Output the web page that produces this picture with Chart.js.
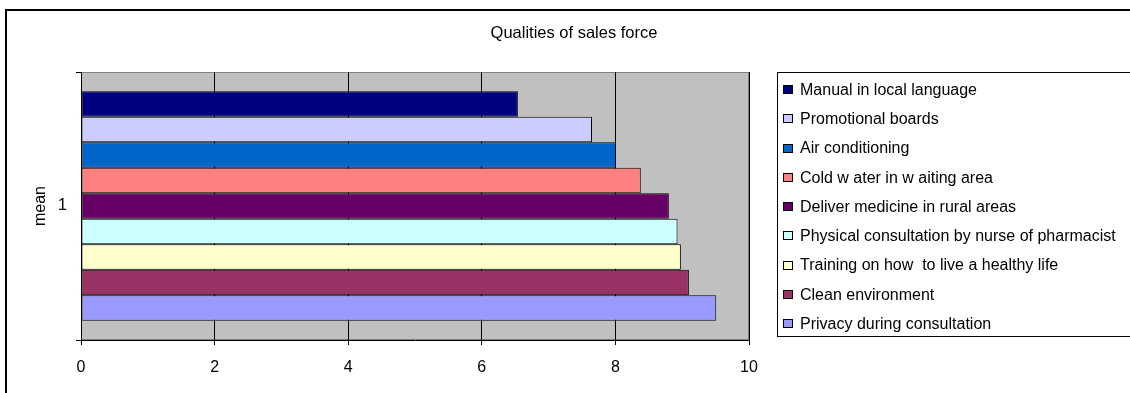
<!DOCTYPE html>
<html>
<head>
<meta charset="utf-8">
<script src="https://cdn.jsdelivr.net/npm/chart.js@4/dist/chart.umd.min.js"></script>
<style>
  html, body { margin: 0; padding: 0; background: #fff; overflow: hidden; }
  #wrap { width: 1130px; height: 393px; }
</style>
</head>
<body>
<div id="wrap"><canvas id="salesChart" width="1130" height="393"></canvas></div>
<script>
var categories = ['1'];
var qualities = [
    'Manual in local language',
    'Promotional boards',
    'Air conditioning',
    'Cold w ater in w aiting area',
    'Deliver medicine in rural areas',
    'Physical consultation by nurse of pharmacist',
    'Training on how  to live a healthy life',
    'Clean environment',
    'Privacy during consultation'
];
var meanScores = [6.54, 7.65, 8.01, 8.38, 8.80, 8.93, 8.98, 9.10, 9.51];
var barColors = ['#000080', '#CCCCFF', '#0066CC', '#FF8080', '#660066', '#CCFFFF', '#FFFFCC', '#993366', '#9999FF'];
var xTicks = [0, 2, 4, 6, 8, 10];

var FONT = '"Liberation Sans", Arial, sans-serif';

// frame, plot background, title and boxed legend
var excelLook = {
    id: 'excelLook',
    beforeDraw: function(chart) {
        var c = chart.ctx, a = chart.chartArea;
        c.save();
        c.fillStyle = '#C0C0C0';
        c.fillRect(a.left, a.top, a.right - a.left, a.bottom - a.top);
        c.strokeStyle = '#808080';
        c.lineWidth = 1;
        c.strokeRect(a.left + 0.5, a.top + 0.5, a.right - a.left - 1, a.bottom - a.top - 1);
        c.restore();
    },
    afterDraw: function(chart) {
        var c = chart.ctx;
        c.save();
        // outer chart border
        c.strokeStyle = '#000';
        c.lineWidth = 2;
        c.strokeRect(6, 10, 2000, 2000);

        // title
        c.fillStyle = '#000';
        c.font = '16.5px ' + FONT;
        c.textAlign = 'center';
        c.textBaseline = 'middle';
        c.fillText('Qualities of sales force', 574, 33);

        // legend box (runs off the right edge)
        c.font = '16px ' + FONT;
        c.lineWidth = 1;
        c.strokeRect(777.5, 72.5, 400, 264);
        c.textAlign = 'left';
        chart.data.datasets.forEach(function(ds, i) {
            var y = 89.5 + i * 29.25;
            c.fillStyle = ds.backgroundColor;
            c.fillRect(783, Math.round(y - 4.5), 10, 9);
            c.strokeStyle = '#000';
            c.strokeRect(783.5, Math.round(y - 4.5) + 0.5, 9, 8);
            c.fillStyle = '#000';
            c.fillText(ds.label, 800, y + 1);
        });
        c.restore();
    }
};

var datasets = qualities.map(function(q, i) {
    return {
        label: q,
        data: [meanScores[i]],
        backgroundColor: barColors[i],
        borderColor: '#000',
        borderWidth: 1,
        borderSkipped: false,
        categoryPercentage: 0.857,
        barPercentage: 1.0
    };
});

var ctx = document.getElementById('salesChart').getContext('2d');
var salesChart = new Chart(ctx, {
    type: 'bar',
    data: { labels: categories, datasets: datasets },
    plugins: [excelLook],
    options: {
        indexAxis: 'y',
        responsive: false,
        animation: false,
        layout: { padding: { left: 0, right: 381, top: 72, bottom: 0 } },
        plugins: {
            legend: { display: false },
            title: { display: false },
            tooltip: { enabled: false }
        },
        scales: {
            x: {
                min: 0,
                max: 10,
                afterBuildTicks: function(scale) {
                    scale.ticks = xTicks.map(function(v) { return { value: v }; });
                },
                grid: { color: '#000', lineWidth: 1, tickLength: 5, drawTicks: true },
                border: { color: '#000', width: 1 },
                ticks: { color: '#000', font: { family: FONT, size: 16 }, padding: 13, maxRotation: 0 },
                afterFit: function(scale) { scale.height = 53; }
            },
            y: {
                grid: { offset: true, drawOnChartArea: false, color: '#000', tickLength: 5 },
                border: { color: '#000', width: 1 },
                ticks: { color: '#000', font: { family: FONT, size: 16 }, padding: 9 },
                title: {
                    display: true,
                    text: 'mean',
                    color: '#000',
                    font: { family: FONT, size: 16 },
                    padding: { top: 31, bottom: 0 }
                },
                afterFit: function(scale) { scale.width = 81; }
            }
        }
    }
});
</script>
</body>
</html>
